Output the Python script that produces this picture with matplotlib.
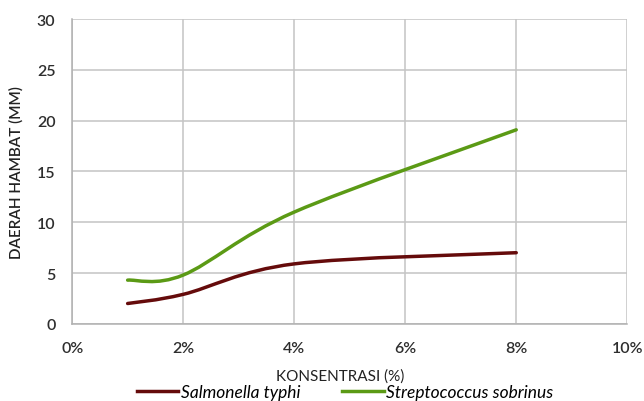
import numpy as np
import matplotlib
matplotlib.use("Agg")
import matplotlib.pyplot as plt
from matplotlib.path import Path
from matplotlib.patches import PathPatch
from matplotlib.lines import Line2D

plt.rcParams['font.family'] = ['Lato', 'DejaVu Sans']

# data (konsentrasi %, daerah hambat mm)
konsentrasi = [1, 2, 4, 8]
salmonella = [2.0, 2.9, 5.9, 7.0]
streptococcus = [4.3, 4.8, 11.0, 19.1]
xticks = [0, 2, 4, 6, 8, 10]
yticks = [0, 5, 10, 15, 20, 25, 30]


def smooth_path(x, y):
    # excel-style smoothed line: cubic bezier with neighbour tangents
    pts = np.column_stack([x, y]).astype(float)
    n = len(pts)
    verts = [pts[0]]
    codes = [Path.MOVETO]
    for i in range(n - 1):
        p0 = pts[max(i - 1, 0)]
        p1 = pts[i]
        p2 = pts[i + 1]
        p3 = pts[min(i + 2, n - 1)]
        c1 = p1 + (p2 - p0) / 6
        c2 = p2 - (p3 - p1) / 6
        verts += [c1, c2, p2]
        codes += [Path.CURVE4] * 3
    return Path(verts, codes)


fig = plt.figure(figsize=(6.44, 4.02), dpi=100)
ax = fig.add_axes([0.112, 0.192, 0.862, 0.758])

merah = '#650B0B'
hijau = '#5B9A15'
for yy, col in [(salmonella, merah), (streptococcus, hijau)]:
    ax.add_patch(PathPatch(smooth_path(konsentrasi, yy), facecolor='none',
                           edgecolor=col, lw=2.5, capstyle='round', zorder=3))

ax.set_xlim(0, 10)
ax.set_ylim(0, 30)
ax.set_xticks(xticks)
ax.set_xticklabels([f"{v}%" for v in xticks])
ax.set_yticks(yticks)
ax.grid(True, color='#C4C4C4', lw=1.1)
ax.set_axisbelow(True)
for s in ['top', 'right']:
    ax.spines[s].set_visible(False)
for s in ['left', 'bottom']:
    ax.spines[s].set_color('#B0B0B0')
    ax.spines[s].set_linewidth(1.1)
ax.tick_params(length=0, labelsize=11.5, colors='#2E2E2E')
ax.tick_params(axis='y', pad=12)
ax.tick_params(axis='x', pad=12.5)
for lab in ax.get_xticklabels() + ax.get_yticklabels():
    lab.set_fontweight('semibold')

ax.set_xlabel("KONSENTRASI (%)", fontsize=11, color='#222222')
ax.xaxis.set_label_coords(0.483, -0.145)
ax.set_ylabel("DAERAH HAMBAT (MM)", fontsize=11, color='#222222',
              fontweight='semibold')
ax.yaxis.set_label_coords(-0.088, 0.5)

handles = [Line2D([], [], color=merah, lw=2.5),
           Line2D([], [], color=hijau, lw=2.5)]
fig.legend(handles, ["Salmonella typhi", "Streptococcus sobrinus"],
           loc='center', bbox_to_anchor=(0.536, 0.022), ncol=2, frameon=False,
           prop={'style': 'italic', 'size': 12.5}, handlelength=2.4,
           handletextpad=0.15, columnspacing=2.4, borderpad=0)

fig.savefig("out.png", dpi=100)
